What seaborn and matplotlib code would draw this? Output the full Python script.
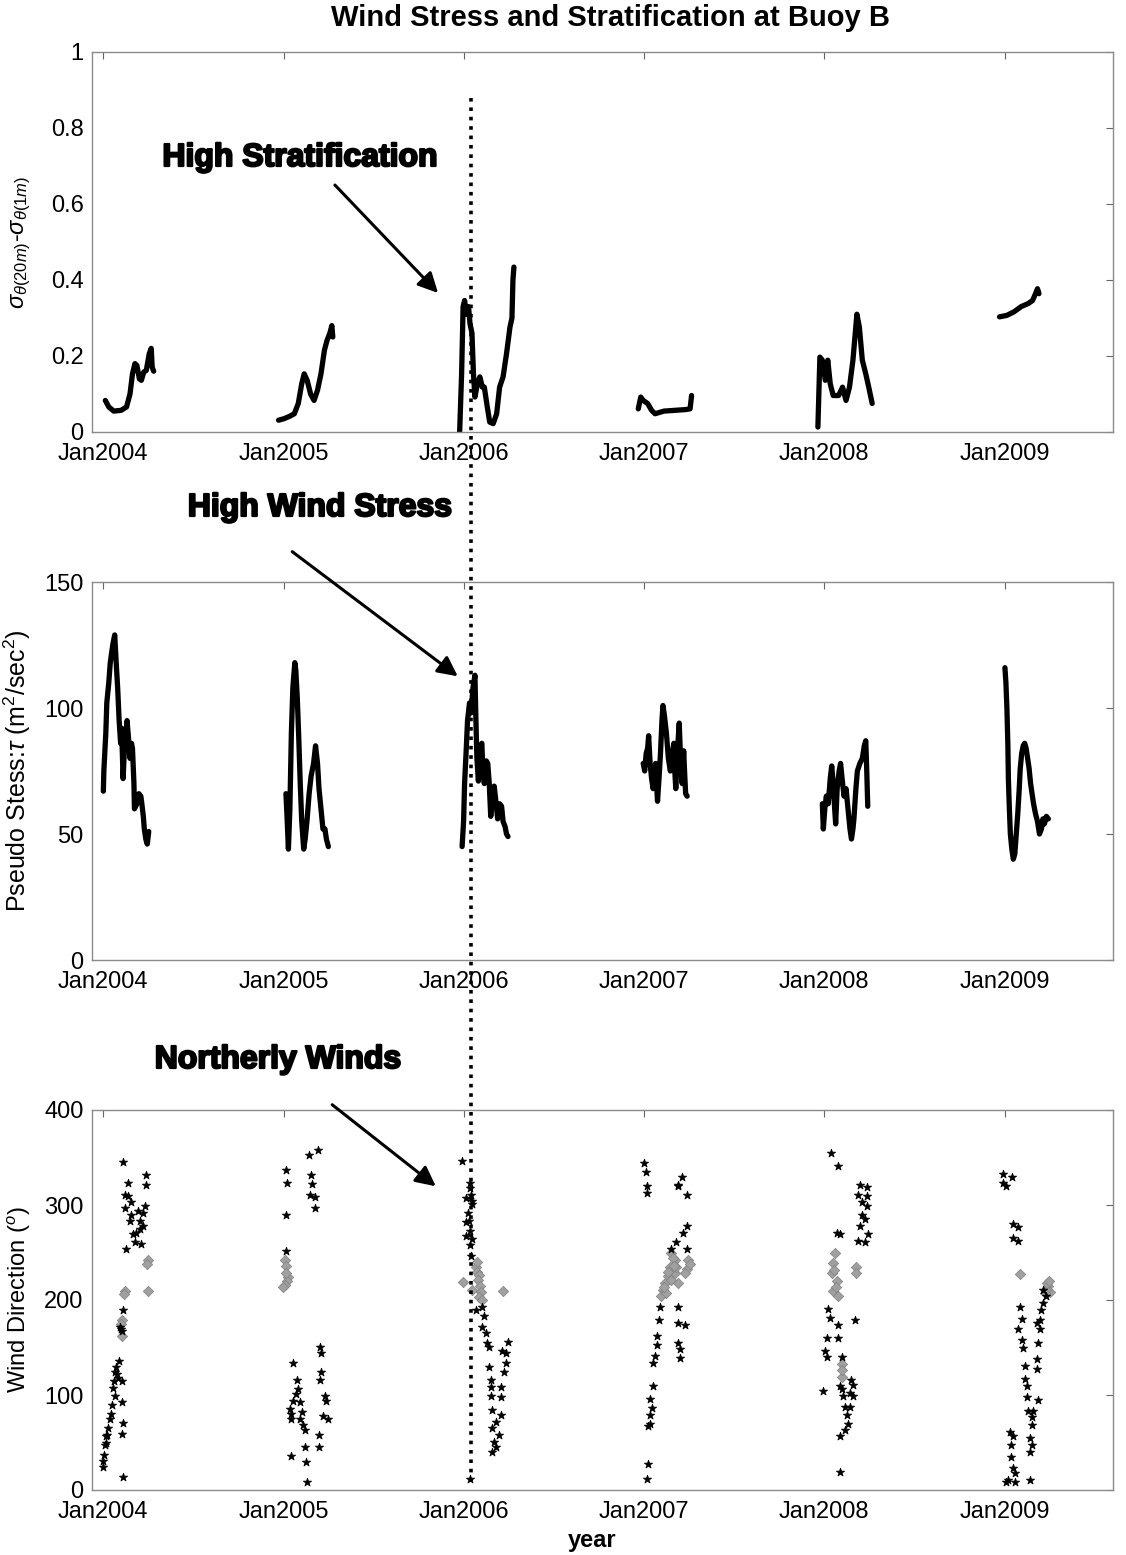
import matplotlib
matplotlib.use("Agg")
import matplotlib.pyplot as plt
import matplotlib.dates as mdates
import matplotlib.patheffects as pe
from matplotlib.lines import Line2D
from matplotlib.patches import FancyArrowPatch
import pandas as pd
import seaborn as sns

# ---------------- data ----------------
years = [2004, 2005, 2006, 2007, 2008, 2009]

# stratification sigma(20m)-sigma(1m): (day offset from Jan 1, value)
strat_2004 = [(4, .083), (11, .066), (21, .055), (36, .057), (47, .066), (54, .10), (59, .153), (64, .18),
              (68, .175), (73, .14), (77, .136), (82, .158), (87, .162), (93, .206), (97, .22), (99, .17), (102, .16)]
strat_2005 = [(-11, .031), (0, .035), (11, .041), (21, .048), (29, .075), (36, .127), (41, .153), (47, .136),
              (54, .10), (61, .083), (68, .11), (75, .153), (82, .215), (87, .24), (93, .26), (97, .28), (99, .25)]
strat_2006 = [(-9, 0.0), (-5, .153), (-2, .33), (1, .346), (5, .31), (9, .33), (12, .285), (16, .26), (19, .153),
              (22, .092), (27, .127), (32, .145), (37, .118), (41, .118), (47, .066), (52, .026), (59, .022),
              (66, .048), (72, .118), (79, .145), (86, .206), (93, .276), (97, .30), (99, .40), (101, .434)]
strat_2007 = [(-12, .061), (-7, .092), (-2, .083), (7, .075), (15, .057), (22, .048), (40, .055), (62, .057),
              (84, .059), (93, .061), (96, .096)]
strat_2008 = [(-13, .013), (-9, .197), (-4, .189), (2, .136), (7, .189), (12, .127), (18, .096), (29, .096),
              (37, .118), (44, .083), (51, .118), (58, .189), (66, .31), (71, .276), (77, .189), (84, .153),
              (90, .118), (97, .075)]
strat_2009 = [(-11, .303), (4, .307), (18, .316), (33, .33), (47, .338), (56, .346), (62, .364), (66, .377), (69, .364)]

# pseudo wind stress
wind_2004 = [(0, 67), (1, 75), (5, 90), (7, 102), (11, 110), (14, 118), (19, 125), (23, 129), (26, 118), (29, 108),
             (32, 95), (35, 86), (37, 92), (40, 72), (43, 85), (46, 90), (48, 95), (51, 88), (54, 80), (57, 86),
             (59, 84), (62, 70), (63, 60), (68, 62), (72, 66), (76, 65), (78, 62), (81, 57), (83, 52), (86, 48),
             (89, 46), (92, 51)]
wind_2005 = [(4, 66), (6, 58), (9, 44), (12, 60), (15, 90), (18, 108), (22, 118), (24, 115), (27, 104), (30, 88),
             (33, 70), (36, 55), (40, 44), (43, 48), (47, 56), (51, 66), (55, 73), (60, 78), (64, 85), (68, 78),
             (71, 68), (76, 58), (79, 52), (83, 52), (86, 48), (90, 45)]
wind_2006 = [(-4, 45), (-1, 55), (1, 70), (4, 82), (7, 95), (11, 102), (14, 98), (18, 108), (22, 113), (24, 95),
             (26, 80), (29, 71), (32, 84), (36, 86), (38, 75), (41, 70), (45, 79), (48, 78), (51, 70), (54, 57),
             (58, 66), (61, 69), (65, 62), (68, 56), (72, 62), (76, 61), (79, 55), (83, 53), (86, 50), (89, 49)]
wind_2007 = [(-2, 78), (1, 75), (4, 82), (7, 84), (9, 89), (12, 78), (15, 72), (18, 68), (21, 75), (23, 78),
             (25, 70), (27, 63), (30, 72), (33, 82), (36, 95), (38, 101), (41, 97), (45, 90), (49, 80), (53, 75),
             (57, 82), (60, 86), (62, 75), (64, 68), (67, 82), (71, 94), (74, 78), (77, 70), (80, 83), (82, 74),
             (84, 66), (87, 65)]
wind_2008 = [(-4, 62), (-2, 52), (1, 60), (4, 65), (8, 62), (12, 72), (15, 77), (18, 70), (21, 60), (23, 54),
             (26, 68), (30, 75), (33, 78), (36, 72), (40, 65), (44, 68), (48, 60), (52, 52), (55, 48), (58, 52),
             (60, 56), (64, 68), (67, 75), (72, 78), (77, 80), (81, 85), (84, 87), (86, 75), (88, 61)]
wind_2009 = [(0, 116), (2, 110), (4, 100), (6, 85), (7, 72), (9, 60), (11, 50), (14, 44), (17, 40), (20, 42),
             (23, 50), (26, 58), (29, 68), (31, 76), (34, 82), (37, 85), (40, 86), (43, 84), (46, 80), (49, 76),
             (52, 70), (55, 66), (58, 62), (62, 58), (66, 55), (70, 50), (74, 52), (77, 56), (80, 54), (84, 57),
             (88, 56)]

# wind direction (dark points and grey points)
dir_dark_2004 = [(0, 24), (0, 31), (2, 37), (3, 47), (5, 50), (6, 57), (8, 58), (10, 65), (13, 75), (15, 80),
                 (18, 89), (20, 107), (21, 115), (23, 124), (24, 99), (26, 129), (28, 122), (30, 118), (32, 136),
                 (33, 172), (35, 170), (37, 167), (37, 115), (37, 93), (37, 59), (40, 71), (40, 14), (40, 190),
                 (40, 345), (43, 311), (43, 297), (45, 254), (50, 323), (50, 310), (53, 283), (57, 303), (57, 290),
                 (60, 270), (64, 261), (67, 271), (70, 294), (74, 283), (74, 275), (77, 259), (80, 292), (80, 278),
                 (84, 299), (86, 332), (87, 321)]
dir_grey_2004 = [(90, 242), (89, 238), (43, 210), (42, 206), (90, 210), (37, 179), (36, 175), (37, 162)]
dir_dark_2005 = [(4, 337), (7, 323), (5, 290), (5, 252), (50, 353), (68, 358), (54, 332), (56, 322), (53, 311),
                 (63, 308), (63, 297), (73, 151), (76, 144), (19, 134), (76, 124), (73, 116), (26, 116), (29, 106),
                 (83, 99), (86, 94), (25, 101), (32, 93), (19, 94), (12, 85), (15, 80), (36, 82), (15, 75), (32, 75),
                 (39, 68), (42, 63), (80, 78), (90, 75), (70, 58), (70, 45), (42, 45), (44, 29), (15, 36), (46, 8)]
dir_grey_2005 = [(2, 242), (5, 236), (9, 224), (7, 220), (2, 216), (-1, 214), (4, 228)]
dir_dark_2006 = [(-4, 346), (13, 318), (17, 304), (13, 323), (15, 311), (3, 307), (17, 301), (7, 292), (10, 283),
                 (3, 282), (13, 273), (3, 267), (17, 264), (13, 258), (15, 246), (37, 193), (24, 189), (40, 183),
                 (37, 172), (44, 165), (47, 155), (51, 151), (88, 156), (77, 146), (84, 144), (84, 134), (81, 124),
                 (51, 129), (54, 116), (74, 108), (54, 108), (54, 99), (74, 98), (57, 84), (74, 79), (64, 72),
                 (57, 65), (71, 58), (61, 51), (64, 45), (57, 40), (13, 12)]
dir_grey_2006 = [(24, 235), (27, 230), (30, 226), (28, 221), (33, 215), (34, 208), (31, 203), (37, 200), (17, 211),
                 (-3, 219), (79, 210), (27, 240)]
dir_dark_2007 = [(0, 344), (3, 335), (68, 320), (77, 330), (5, 320), (5, 313), (69, 321), (86, 311), (86, 278),
                 (79, 271), (65, 261), (86, 254), (55, 254), (32, 193), (30, 179), (69, 193), (69, 176), (82, 174),
                 (25, 162), (25, 153), (69, 155), (72, 148), (21, 141), (72, 139), (18, 134), (18, 110), (11, 96),
                 (15, 86), (11, 79), (11, 70), (8, 67), (8, 27), (5, 12)]
dir_grey_2007 = [(55, 249), (62, 242), (52, 235), (49, 225), (42, 218), (38, 211), (35, 204), (62, 228), (69, 218),
                 (65, 235), (89, 242), (86, 233), (82, 228), (45, 207), (55, 221), (58, 244), (48, 230), (40, 214),
                 (60, 236), (92, 238)]
dir_dark_2008 = [(14, 355), (28, 341), (72, 321), (86, 319), (69, 311), (86, 309), (76, 303), (86, 299), (76, 290),
                 (82, 285), (72, 278), (25, 271), (32, 269), (69, 262), (82, 261), (89, 269), (8, 191), (11, 181),
                 (28, 174), (28, 160), (5, 160), (1, 146), (5, 140), (35, 140), (62, 179), (-2, 104), (32, 110),
                 (35, 106), (55, 116), (59, 111), (52, 102), (59, 99), (38, 99), (42, 87), (52, 87), (45, 79),
                 (47, 70), (42, 63), (32, 57), (32, 19)]
dir_grey_2008 = [(22, 249), (18, 239), (15, 228), (25, 220), (18, 209), (28, 204), (20, 232), (23, 214), (65, 235),
                 (65, 228), (35, 133), (35, 119), (35, 126)]
dir_dark_2009 = [(-4, 333), (14, 329), (-4, 323), (3, 320), (17, 280), (27, 277), (16, 265), (27, 262), (30, 193),
                 (34, 180), (27, 169), (34, 158), (37, 150), (40, 131), (40, 117), (44, 110), (44, 98), (47, 83),
                 (57, 83), (54, 77), (54, 68), (51, 55), (54, 47), (51, 40), (10, 61), (13, 47), (17, 57), (13, 35),
                 (17, 23), (20, 18), (7, 11), (3, 8), (20, 8), (51, 11), (64, 176), (71, 169), (67, 155), (64, 138),
                 (64, 127), (67, 95), (77, 211), (84, 204), (77, 197), (74, 190), (71, 179)]
dir_grey_2009 = [(30, 227), (88, 215), (91, 208), (84, 211), (86, 218), (90, 220), (82, 207)]

xtick_fmt = "Jan%Y"
title = "Wind Stress and Stratification at Buoy B"
marker_date = "2006-01-15"


def frame(series_by_year):
    rows = []
    for yr, pts in series_by_year.items():
        base = pd.Timestamp(f"{yr}-01-01")
        for d, v in pts:
            rows.append({"year": yr, "date": base + pd.Timedelta(days=d), "val": v})
    return pd.DataFrame(rows)


df_strat = frame(dict(zip(years, [strat_2004, strat_2005, strat_2006, strat_2007, strat_2008, strat_2009])))
df_wind = frame(dict(zip(years, [wind_2004, wind_2005, wind_2006, wind_2007, wind_2008, wind_2009])))
df_dark = frame(dict(zip(years, [dir_dark_2004, dir_dark_2005, dir_dark_2006, dir_dark_2007, dir_dark_2008, dir_dark_2009])))
df_grey = frame(dict(zip(years, [dir_grey_2004, dir_grey_2005, dir_grey_2006, dir_grey_2007, dir_grey_2008, dir_grey_2009])))

# ---------------- figure ----------------
sns.set_theme(style="white")
plt.rcParams["font.family"] = ["Liberation Sans", "DejaVu Sans"]
plt.rcParams["mathtext.fontset"] = "custom"
plt.rcParams["mathtext.rm"] = "Liberation Sans"
plt.rcParams["mathtext.it"] = "Liberation Sans:italic"
for k in ["text.color", "axes.labelcolor", "xtick.color", "ytick.color"]:
    plt.rcParams[k] = "black"

W, H = 1126, 1555
fig = plt.figure(figsize=(W / 100, H / 100), dpi=100)


def add_axes(top_px, bot_px):
    l, r = 92, 1113
    return fig.add_axes([l / W, 1 - bot_px / H, (r - l) / W, (bot_px - top_px) / H])


ax1 = add_axes(52, 432)
ax2 = add_axes(582, 960)
ax3 = add_axes(1110, 1490)

sns.lineplot(data=df_strat, x="date", y="val", units="year", estimator=None, sort=False,
             color="black", lw=3.8, ax=ax1)
sns.lineplot(data=df_wind, x="date", y="val", units="year", estimator=None, sort=False,
             color="black", lw=3.8, ax=ax2)
sns.scatterplot(data=df_grey, x="date", y="val", marker="D", s=28, color="#a0a0a0",
                edgecolor="#808080", linewidth=0.5, ax=ax3, zorder=2)
sns.scatterplot(data=df_dark, x="date", y="val", marker="*", s=38, color="black",
                edgecolor="black", linewidth=0.6, ax=ax3, zorder=3)

xmin, xmax = pd.Timestamp("2003-12-09"), pd.Timestamp("2009-08-08")
for ax, ylim, yt, ytl in [
    (ax1, (0, 1), [0, .2, .4, .6, .8, 1], ["0", "0.2", "0.4", "0.6", "0.8", "1"]),
    (ax2, (0, 150), [0, 50, 100, 150], ["0", "50", "100", "150"]),
    (ax3, (0, 400), [0, 100, 200, 300, 400], ["0", "100", "200", "300", "400"]),
]:
    ax.set_xlim(xmin, xmax)
    ax.set_ylim(*ylim)
    ax.set_yticks(yt)
    ax.set_yticklabels(ytl)
    ax.xaxis.set_major_locator(mdates.YearLocator())
    ax.xaxis.set_major_formatter(mdates.DateFormatter(xtick_fmt))
    ax.set_xlabel("")
    ax.tick_params(direction="in", top=True, right=True, length=5, width=0.8,
                   color="#666666", labelsize=17)
    ax.tick_params(axis="x", pad=8)
    ax.tick_params(axis="y", pad=6)
    for sp in ax.spines.values():
        sp.set_color("#8a8a8a")
        sp.set_linewidth(1.0)
        sp.set_visible(True)
    ax.yaxis.set_label_coords(-0.058, 0.5)

ax1.set_ylabel(r"$\sigma_{\theta(20m)}$-$\sigma_{\theta(1m)}$", fontsize=17)
ax2.set_ylabel(r"Pseudo Stess:$\tau$ (m$^2$/sec$^2$)", fontsize=18)
ax3.set_ylabel(r"Wind Direction ($^o$)", fontsize=17)

# title and x label
fig.text(610 / W, 1 - 18 / H, title, ha="center", va="center", fontsize=21, fontweight="bold")
fig.text(592 / W, 1 - 1541 / H, "year", ha="center", va="center", fontsize=17, fontweight="bold")

# dotted marker line spanning all panels
xd = mdates.date2num(pd.Timestamp(marker_date))
px = ax1.transData.transform((xd, 0))[0]
fx = fig.transFigure.inverted().transform((px, 0))[0]
fig.add_artist(Line2D([fx, fx], [1 - 98 / H, 1 - 1482 / H], transform=fig.transFigure,
                      ls=(0, (1, 1.6)), lw=2.6, color="black", zorder=10))

# annotations (drawn on the figure, above all axes)
notes = [("High Stratification", (300, 158), (333, 183), (440, 295)),
         ("High Wind Stress", (320, 508), (290, 550), (460, 678)),
         ("Northerly Winds", (278, 1060), (330, 1103), (438, 1188))]
for txt, (tx, ty), (ax_, ay_), (hx, hy) in notes:
    fig.text(tx / W, 1 - ty / H, txt, ha="center", va="center", fontsize=23, fontweight="bold",
             path_effects=[pe.withStroke(linewidth=1.6, foreground="black")], zorder=20)
    fig.add_artist(FancyArrowPatch((ax_ / W, 1 - ay_ / H), (hx / W, 1 - hy / H),
                                   transform=fig.transFigure, arrowstyle="-|>", color="black",
                                   lw=2.2, mutation_scale=30, zorder=20))

fig.savefig("out.png", dpi=100)
